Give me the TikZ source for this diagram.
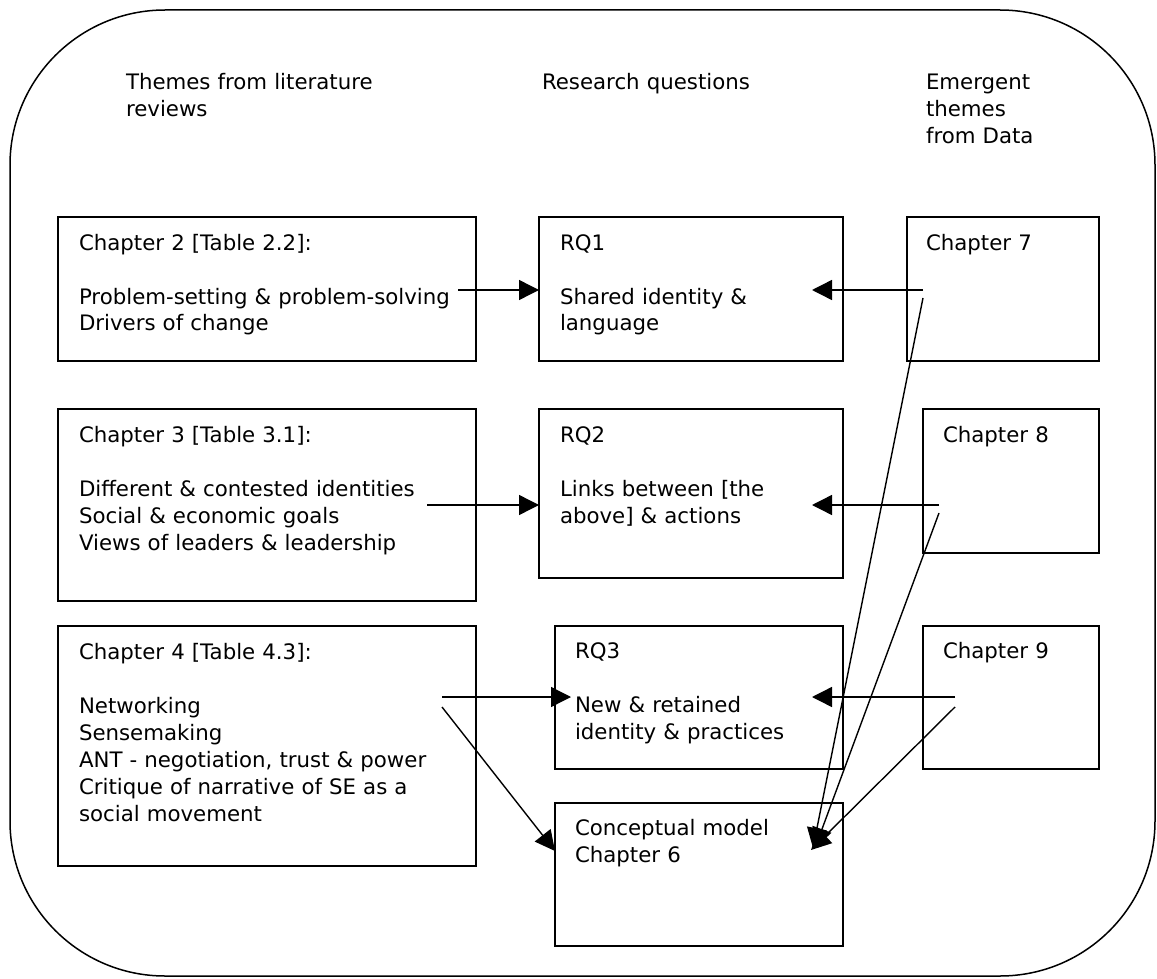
\documentclass[tikz,border=0pt]{standalone}
\usepackage{fontspec}
\setmainfont{DejaVu Sans}
\usetikzlibrary{arrows.meta,calc}
\begin{document}
\begin{tikzpicture}[x=1pt,y=-1pt,
  box/.style={draw,line width=1.6pt,inner sep=0pt,outer sep=0pt,anchor=north west},
  txt/.style={anchor=base west,inner sep=0pt,outer sep=0pt,align=left,text width=420pt,font=\fontsize{21.3}{27}\selectfont},
  conn/.style={line width=1.4pt,-{Triangle[length=20pt,width=20pt]}},
]
\useasboundingbox (0,0) rectangle (1157,979);
\draw[line width=1.5pt,rounded corners=155pt] (10,10) rectangle (1155,976);

% headers
\node[txt] (h1) at (126,90) {Themes from literature\\reviews};
\node[txt] (h2) at (542,90) {Research questions};
\node[txt] (h3) at (926,90) {Emergent\\themes\\from Data};

% boxes
\node[box,minimum width=418pt,minimum height=144pt] (ch2) at (58,217) {};
\node[box,minimum width=304pt,minimum height=144pt] (rq1) at (539,217) {};
\node[box,minimum width=192pt,minimum height=144pt] (ch7) at (907,217) {};
\node[box,minimum width=418pt,minimum height=192pt] (ch3) at (58,409) {};
\node[box,minimum width=304pt,minimum height=169pt] (rq2) at (539,409) {};
\node[box,minimum width=176pt,minimum height=144pt] (ch8) at (923,409) {};
\node[box,minimum width=418pt,minimum height=240pt] (ch4) at (58,626) {};
\node[box,minimum width=288pt,minimum height=143pt] (rq3) at (555,626) {};
\node[box,minimum width=176pt,minimum height=143pt] (ch9) at (923,626) {};
\node[box,minimum width=288pt,minimum height=143pt] (cm) at (555,803) {};

% box texts
\node[txt] (ch2t) at ($(ch2.north west)+(21,33)$) {Chapter 2 [Table 2.2]:\\[27pt]Problem-setting \& problem-solving\\Drivers of change};
\node[txt] (rq1t) at ($(rq1.north west)+(21,33)$) {RQ1\\[27pt]Shared identity \&\\language};
\node[txt] (ch7t) at ($(ch7.north west)+(19,33)$) {Chapter 7};
\node[txt] (ch3t) at ($(ch3.north west)+(21,33)$) {Chapter 3 [Table 3.1]:\\[27pt]Different \& contested identities\\Social \& economic goals\\Views of leaders \& leadership};
\node[txt] (rq2t) at ($(rq2.north west)+(21,33)$) {RQ2\\[27pt]Links between [the\\above] \& actions};
\node[txt] (ch8t) at ($(ch8.north west)+(20,33)$) {Chapter 8};
\node[txt] (ch4t) at ($(ch4.north west)+(21,33)$) {Chapter 4 [Table 4.3]:\\[27pt]Networking\\Sensemaking\\ANT - negotiation, trust \& power\\Critique of narrative of SE as a\\social movement};
\node[txt] (rq3t) at ($(rq3.north west)+(20,32)$) {RQ3\\[27pt]New \& retained\\identity \& practices};
\node[txt] (ch9t) at ($(ch9.north west)+(20,32)$) {Chapter 9};
\node[txt] (cmt) at ($(cm.north west)+(20,32)$) {Conceptual model\\Chapter 6};

% connector end points
\coordinate (s1) at (458,290);  \coordinate (e1) at (rq1.west |- s1);
\coordinate (s2) at (427,505);  \coordinate (e2) at (rq2.west |- s2);
\coordinate (s3) at (923,290);  \coordinate (e3) at (812,290);
\coordinate (s4) at (939,505);  \coordinate (e4) at (812,505);
\coordinate (s5) at (955,697);  \coordinate (e5) at (812,697);
\coordinate (s6) at (442,697);  \coordinate (e6) at (571,697);
\coordinate (s7) at (442,707);  \coordinate (e7) at (cm.west |- 0,851);
\coordinate (s8) at (923,298);  \coordinate (e8) at (813,848);
\coordinate (s9) at (939,513);  \coordinate (e9) at (815,848);
\coordinate (s10) at (955,707); \coordinate (e10) at (811,850);

\draw[conn] (s1) -- (e1);
\draw[conn] (s2) -- (e2);
\draw[conn] (s3) -- (e3);
\draw[conn] (s4) -- (e4);
\draw[conn] (s5) -- (e5);
\draw[conn] (s6) -- (e6);
\draw[conn] (s7) -- (e7);
\draw[conn] (s8) -- (e8);
\draw[conn] (s9) -- (e9);
\draw[conn] (s10) -- (e10);
\end{tikzpicture}
\end{document}
